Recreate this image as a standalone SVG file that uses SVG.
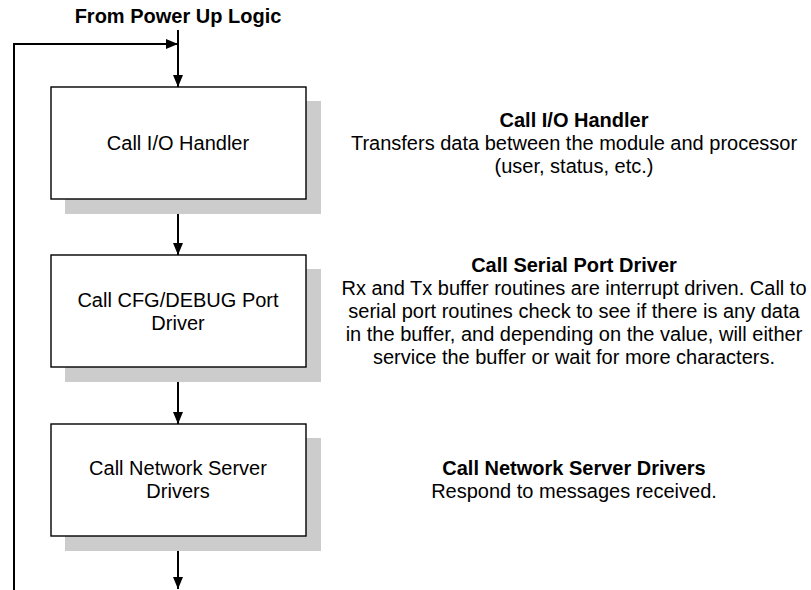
<svg xmlns="http://www.w3.org/2000/svg" width="811" height="590" viewBox="0 0 811 590">
<style>
.shadow{fill:#cccccc;stroke:none}
.box{fill:#ffffff;stroke:#000000;stroke-width:1.4}
.conn{fill:none;stroke:#000000;stroke-width:2}
text{font-family:"Liberation Sans",Arial,sans-serif;font-size:20px;fill:#000000}
.c{text-anchor:middle}
.b{font-weight:bold}
</style>
<defs>
<marker id="arr" viewBox="0 0 12 10" refX="12" refY="5" markerWidth="12" markerHeight="10" markerUnits="userSpaceOnUse" orient="auto">
<path d="M0,0 L12,5 L0,10 Z" fill="#000000"/>
</marker>
</defs>
<rect width="811" height="590" fill="#ffffff"/>
<text class="c b" x="178" y="23">From Power Up Logic</text>
<g id="connectors">
<path class="conn" d="M178,30 V87" marker-end="url(#arr)"/>
<path class="conn" d="M14,590 V44 H178" marker-end="url(#arr)"/>
<path class="conn" d="M178,199 V255" marker-end="url(#arr)"/>
<path class="conn" d="M178,367 V424" marker-end="url(#arr)"/>
<path class="conn" d="M178,536 V589" marker-end="url(#arr)"/>
</g>
<g id="node-io">
<rect class="shadow" x="65" y="101" width="256" height="113"/>
<rect class="box" x="51" y="87" width="255" height="112"/>
<text class="c" x="178" y="150">Call I/O Handler</text>
</g>
<g id="node-cfg">
<rect class="shadow" x="65" y="269" width="256" height="113"/>
<rect class="box" x="51" y="255" width="255" height="112"/>
<text class="c" x="178" y="307">Call CFG/DEBUG Port</text>
<text class="c" x="178" y="330">Driver</text>
</g>
<g id="node-net">
<rect class="shadow" x="65" y="438" width="256" height="113"/>
<rect class="box" x="51" y="424" width="255" height="112"/>
<text class="c" x="178" y="475">Call Network Server</text>
<text class="c" x="178" y="498">Drivers</text>
</g>
<g id="desc-io">
<text class="c b" x="574" y="127">Call I/O Handler</text>
<text class="c" x="574" y="150">Transfers data between the module and processor</text>
<text class="c" x="574" y="173">(user, status, etc.)</text>
</g>
<g id="desc-serial">
<text class="c b" x="574" y="272">Call Serial Port Driver</text>
<text class="c" x="574" y="295">Rx and Tx buffer routines are interrupt driven. Call to</text>
<text class="c" x="574" y="318">serial port routines check to see if there is any data</text>
<text class="c" x="574" y="341">in the buffer, and depending on the value, will either</text>
<text class="c" x="574" y="364">service the buffer or wait for more characters.</text>
</g>
<g id="desc-net">
<text class="c b" x="574" y="475">Call Network Server Drivers</text>
<text class="c" x="574" y="498">Respond to messages received.</text>
</g>
</svg>
